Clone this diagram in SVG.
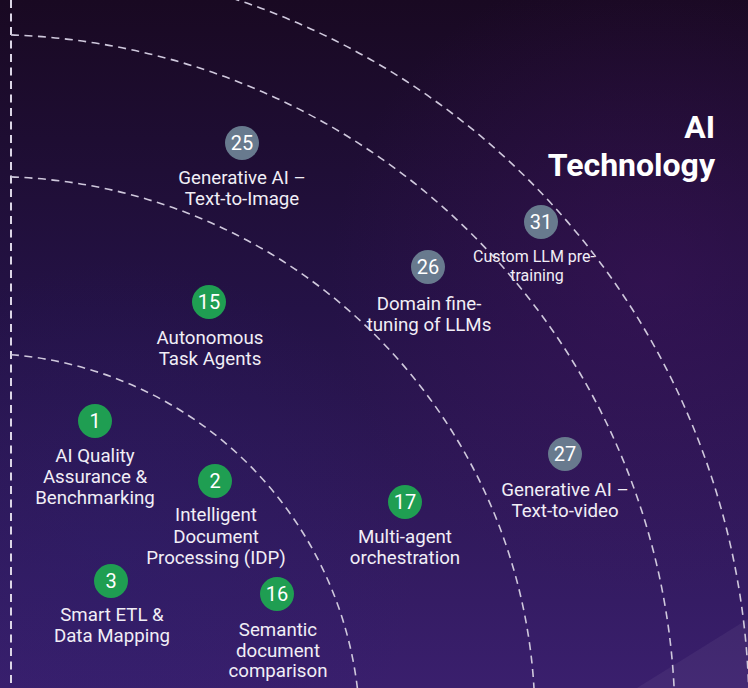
<svg xmlns="http://www.w3.org/2000/svg" width="748" height="688" viewBox="0 0 748 688">
  <defs>
    <linearGradient id="bg" x1="0" y1="0" x2="0" y2="1">
      <stop offset="0" stop-color="#190922"/>
      <stop offset="0.45" stop-color="#241246"/>
      <stop offset="1" stop-color="#3a1f6d"/>
    </linearGradient>
    <radialGradient id="glow" cx="650" cy="280" r="320" gradientUnits="userSpaceOnUse">
      <stop offset="0" stop-color="#4a1466" stop-opacity="0.35"/>
      <stop offset="1" stop-color="#4a1466" stop-opacity="0"/>
    </radialGradient>
    <radialGradient id="glow2" cx="120" cy="560" r="300" gradientUnits="userSpaceOnUse">
      <stop offset="0" stop-color="#2a2070" stop-opacity="0.3"/>
      <stop offset="1" stop-color="#2a2070" stop-opacity="0"/>
    </radialGradient>
    <style>
      .ring { fill: none; stroke: #cfc8dc; stroke-width: 1.6; stroke-dasharray: 8 5.5; }
      .axis { fill: none; stroke: #dcd6e6; stroke-width: 2; stroke-dasharray: 8 5.5; }
      .green { fill: #1f9e52; }
      .grey { fill: #687a8e; }
      .num { font-family: Roboto, "Liberation Sans", sans-serif; font-size: 20px; fill: #ffffff; text-anchor: middle; }
      .lbl { font-family: Roboto, "Liberation Sans", sans-serif; font-size: 18.7px; fill: #f1eef6; text-anchor: middle; }
      .lbl-s { font-family: Roboto, "Liberation Sans", sans-serif; font-size: 16px; fill: #f1eef6; text-anchor: middle; }
      .title { font-family: Roboto, "Liberation Sans", sans-serif; font-size: 32px; font-weight: bold; fill: #ffffff; text-anchor: end; }
    </style>
  </defs>

  <rect x="0" y="0" width="748" height="688" fill="url(#bg)"/>
  <rect x="0" y="0" width="748" height="688" fill="url(#glow)"/>
  <rect x="0" y="0" width="748" height="688" fill="url(#glow2)"/>
  <polygon points="637,688 748,619 748,688" fill="#ffffff" fill-opacity="0.05"/>

  <g id="connectors">
    <line class="axis" x1="11" y1="0" x2="11" y2="688"/>
    <path class="ring" d="M11,354.7 A379.5,379.5 0 0 1 357.6,690"/>
    <path class="ring" d="M11,176.9 A543.2,543.2 0 0 1 534.1,690"/>
    <path class="ring" d="M11,34.9 A687.5,687.5 0 0 1 674.2,690"/>
    <path class="ring" d="M231.7,-2 A750,750 0 0 1 748.9,700"/>
  </g>

  <g id="title">
    <text class="title" x="715" y="138">AI</text>
    <text class="title" x="715" y="176">Technology</text>
  </g>

  <g id="node-25">
    <circle class="grey" cx="242" cy="143" r="17"/>
    <text class="num" x="242" y="150">25</text>
    <text class="lbl" x="242" y="184">Generative AI –</text>
    <text class="lbl" x="242" y="205">Text-to-Image</text>
  </g>

  <g id="node-15">
    <circle class="green" cx="209" cy="302" r="17"/>
    <text class="num" x="209" y="309">15</text>
    <text class="lbl" x="210" y="344">Autonomous</text>
    <text class="lbl" x="210" y="365">Task Agents</text>
  </g>

  <g id="node-31">
    <circle class="grey" cx="541" cy="222" r="17"/>
    <text class="num" x="541" y="229">31</text>
    <text class="lbl-s" x="534" y="262">Custom LLM pre-</text>
    <text class="lbl-s" x="537" y="281">training</text>
  </g>

  <g id="node-26">
    <circle class="grey" cx="428" cy="267" r="17"/>
    <text class="num" x="428" y="274">26</text>
    <text class="lbl" x="429" y="310">Domain fine-</text>
    <text class="lbl" x="429" y="331">tuning of LLMs</text>
  </g>

  <g id="node-27">
    <circle class="grey" cx="565" cy="454" r="17"/>
    <text class="num" x="565" y="461">27</text>
    <text class="lbl" x="565" y="496">Generative AI –</text>
    <text class="lbl" x="565" y="517">Text-to-video</text>
  </g>

  <g id="node-17">
    <circle class="green" cx="405" cy="502" r="17"/>
    <text class="num" x="405" y="509">17</text>
    <text class="lbl" x="405" y="543">Multi-agent</text>
    <text class="lbl" x="405" y="564">orchestration</text>
  </g>

  <g id="node-1">
    <circle class="green" cx="95" cy="421" r="17"/>
    <text class="num" x="95" y="428">1</text>
    <text class="lbl" x="95" y="462">AI Quality</text>
    <text class="lbl" x="95" y="483">Assurance &amp;</text>
    <text class="lbl" x="95" y="504">Benchmarking</text>
  </g>

  <g id="node-2">
    <circle class="green" cx="215" cy="481" r="17"/>
    <text class="num" x="215" y="488">2</text>
    <text class="lbl" x="216" y="521">Intelligent</text>
    <text class="lbl" x="216" y="543">Document</text>
    <text class="lbl" x="216" y="564">Processing (IDP)</text>
  </g>

  <g id="node-3">
    <circle class="green" cx="111" cy="581" r="17"/>
    <text class="num" x="111" y="588">3</text>
    <text class="lbl" x="112" y="621">Smart ETL &amp;</text>
    <text class="lbl" x="112" y="642">Data Mapping</text>
  </g>

  <g id="node-16">
    <circle class="green" cx="277" cy="594" r="17"/>
    <text class="num" x="277" y="601">16</text>
    <text class="lbl" x="278" y="636">Semantic</text>
    <text class="lbl" x="278" y="657">document</text>
    <text class="lbl" x="278" y="677">comparison</text>
  </g>
</svg>
